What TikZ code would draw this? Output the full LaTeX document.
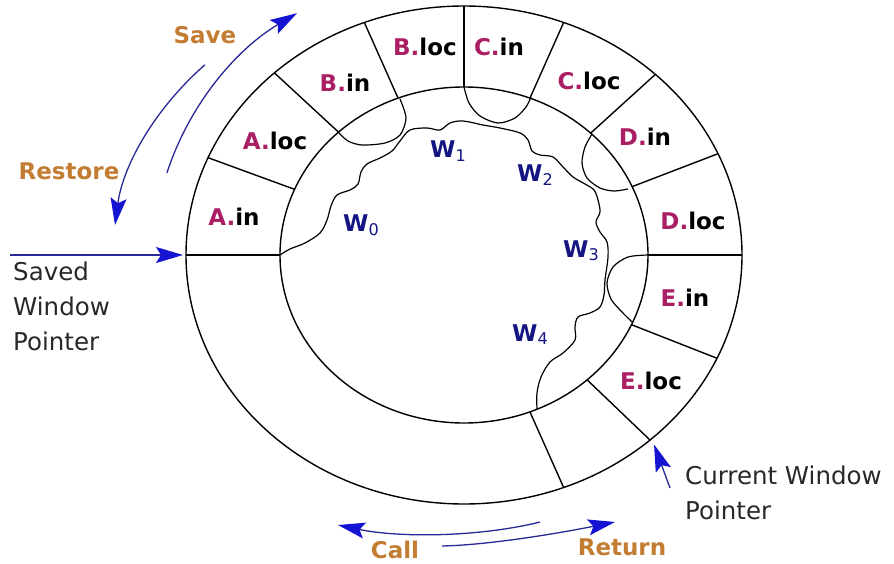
\documentclass[tikz,border=0pt]{standalone}
\usepackage{fontspec}
\setmainfont{DejaVu Sans}
\usetikzlibrary{arrows.meta,positioning}

\definecolor{regred}{RGB}{170,30,100}
\definecolor{wnavy}{RGB}{20,20,130}
\definecolor{actbrown}{RGB}{195,125,50}
\definecolor{arrline}{RGB}{40,40,150}
\definecolor{arrtip}{RGB}{20,20,210}
\definecolor{notegray}{RGB}{40,40,40}

\tikzset{
  reg/.style={font=\fontsize{23}{23}\selectfont\bfseries, inner sep=0pt},
  win/.style={font=\fontsize{23}{23}\selectfont\bfseries, text=wnavy, inner sep=0pt, anchor=base west},
  act/.style={font=\fontsize{23}{23}\selectfont\bfseries, text=actbrown, inner sep=0pt},
  note/.style={font=\fontsize{24.5}{35}\selectfont, text=notegray, align=left, inner sep=0pt, anchor=north west},
  ptr/.style={draw=arrline, line width=1.3pt, -{Stealth[length=27pt,width=16pt,inset=5pt,color=arrtip]}},
  ring/.style={line width=1.4pt},
  wave/.style={line width=1.2pt, line join=round}
}
\newcommand{\rg}[2]{\textcolor{regred}{#1.}#2}

\begin{document}
\begin{tikzpicture}[x=1pt,y=-1pt]
%\draw[help lines] (0,0) grid[step=50] (894,564);
\useasboundingbox (0,0) rectangle (894,564);
\coordinate (C) at (464,255);
%
\draw[ring] (C) ellipse [x radius=278pt, y radius=249pt];
\draw[ring] (C) ellipse [x radius=184pt, y radius=168pt];
\foreach \a in {180,157,133,111,90,69,46.5,24,0,-24.5,-48,-69}
\draw[ring] ([shift={(\a:184pt and 168pt)}]C) -- ([shift={(\a:278pt and 249pt)}]C);
%
\node[reg] (Ain)  at (234,217) {\rg{A}{in}};
\node[reg] (Aloc) at (275,141) {\rg{A}{loc}};
\node[reg] (Bin)  at (345,83)  {\rg{B}{in}};
\node[reg] (Bloc) at (425,47)  {\rg{B}{loc}};
\node[reg] (Cin)  at (499,47)  {\rg{C}{in}};
\node[reg] (Cloc) at (589,81)  {\rg{C}{loc}};
\node[reg] (Din)  at (645,137) {\rg{D}{in}};
\node[reg] (Dloc) at (693,221) {\rg{D}{loc}};
\node[reg] (Ein)  at (685,298) {\rg{E}{in}};
\node[reg] (Eloc) at (651,381) {\rg{E}{loc}};
%
% window boundaries
\draw[wave] plot[smooth, tension=.55] coordinates {(280,255) (290,249) (305,243) (320,233) (327,220) (331,206) (337,195) (350,190) (358,184) (361,172) (367,164) (380,158) (392,151) (400,141) (410,130) (427,128) (440,130) (450,123) (463,121) (483,125) (500,128) (520,133) (528,140) (532,151) (540,155) (553,157) (563,167) (573,177) (585,184) (594,190) (598,200) (600,212) (596,222) (600,232) (607,242) (608,257) (605,280) (604,295) (600,307) (590,313) (578,317) (575,327) (575,340) (563,353) (550,362) (541,377) (537,393) (537,409)};
\draw[wave] plot[smooth] coordinates {(338,132) (348,141) (362,145) (385,143) (400,135) (406,118) (400,99)};   % B.in
\draw[wave] plot[smooth] coordinates {(464,87) (469,103) (480,116) (498,123) (515,118) (526,107) (531,97)};    % C.in
\draw[wave] plot[smooth] coordinates {(592,134) (585,147) (582,163) (587,178) (600,188) (614,191) (628,189)};  % D.in
\draw[wave] plot[smooth] coordinates {(648,255) (628,257) (613,267) (607,283) (611,299) (621,311) (632,322)};  % E.in
%
\node[win] (W0) at (343,232) {W\textsubscript{\mdseries 0}};
\node[win] (W1) at (430,158) {W\textsubscript{\mdseries 1}};
\node[win] (W2) at (517,182) {W\textsubscript{\mdseries 2}};
\node[win] (W3) at (563,257) {W\textsubscript{\mdseries 3}};
\node[win] (W4) at (512,341) {W\textsubscript{\mdseries 4}};
%
\node[act] (save)    at (205,35)  {Save};
\node[act] (restore) at (69,171)  {Restore};
\node[act] (call)    at (395,550) {Call};
\node[act] (return)  at (622,547) {Return};
\node[note] (saved)   at (13,262)  {Saved\\Window\\Pointer};
\node[note] (current) at (685,466) {Current Window\\Pointer};
%
\coordinate (svS) at ([shift={(163.4:310pt and 287pt)}]C);
\coordinate (rsS) at ([shift={(137.6:351pt and 282pt)}]C);
\coordinate (svTail) at (10,255);
\coordinate (ringW) at ([shift={(180:278pt and 249pt)}]C);
\coordinate (cwTail) at (670,488);
\coordinate (cwTip) at ([shift={(-48:284pt and 255pt)}]C);
\coordinate (callS) at (540,522);
\coordinate (callE) at (338,525);
\coordinate (retS) at (442,546);
\coordinate (retE) at (615,522);
\draw[ptr] (svS) arc[start angle=163.4, end angle=122.6, x radius=310pt, y radius=287pt];
\draw[ptr] (rsS) arc[start angle=137.6, end angle=173.9, x radius=351pt, y radius=282pt];
\draw[ptr, shorten >=3pt] (svTail) -- (ringW);
\draw[ptr] (cwTail) -- (cwTip);
\draw[ptr] (callS) .. controls (480,537) and (400,538) .. (callE);
\draw[ptr] (retS) .. controls (490,545) and (560,533) .. (retE);
\end{tikzpicture}
\end{document}
